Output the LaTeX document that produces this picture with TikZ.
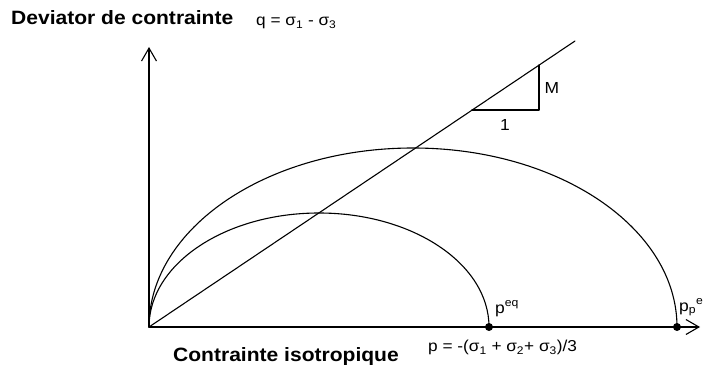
\documentclass[tikz,border=0pt]{standalone}
\usepackage{fontspec}
\setmainfont{Liberation Sans}[FakeStretch=1.09]
\usetikzlibrary{arrows.meta}
\tikzset{
  ln/.style={line width=1.1pt, line cap=round, line join=round},
  axis/.style={ln, -{Straight Barb[length=13pt,width=15pt,line width=1.1pt]}},
  boldlab/.style={anchor=base west, inner sep=0pt, font=\bfseries\fontsize{19.3}{22}\selectfont},
  smalllab/.style={anchor=base west, inner sep=0pt, font=\fontsize{15.8}{18}\selectfont},
  ptlab/.style={anchor=base west, inner sep=0pt, font=\fontsize{16}{18}\selectfont},
  dot/.style={fill=black}
}
\begin{document}
\begin{tikzpicture}[x=1pt,y=1pt]
\useasboundingbox (0,0) rectangle (703,370);
% key points
\coordinate (O) at (149,43);
\coordinate (Y) at (149,323);
\coordinate (X) at (700,43);
\coordinate (Peq) at (489,43);
\coordinate (Pp) at (677,43);
\coordinate (T) at (575,329);
\coordinate (A) at (472,260);
\coordinate (B) at (539,260);
\coordinate (C) at (539,305);
% axes
\draw[axis] (O) -- (Y);
\draw[axis] (O) -- (X);
% critical state line
\draw[ln] (O) -- (T);
% slope triangle
\draw[ln] (A) -- (B) -- (C);
% yield ellipses
\draw[ln] (O) arc[start angle=180, end angle=0, x radius=170, y radius=114];
\draw[ln] (O) arc[start angle=180, end angle=0, x radius=264, y radius=179];
% dots
\fill[dot] (Peq) circle (4);
\fill[dot] (Pp) circle (4);
% labels
\node[boldlab] (title) at (11,345.7) {Deviator de contrainte};
\node[smalllab] (qf) at (256,344.3) {q = σ\textsubscript{1} - σ\textsubscript{3}};
\node[boldlab] (iso) at (173,8.3) {Contrainte isotropique};
\node[smalllab] (pf) at (428,18.3) {p = -(σ\textsubscript{1} + σ\textsubscript{2}+ σ\textsubscript{3})/3};
\node[ptlab] (peqlab) at (495,57) {p\textsuperscript{eq}};
\node[ptlab] (pplab) at (679,59) {p\textsubscript{p}\textsuperscript{eq}};
\node[ptlab, anchor=center] (M) at (552,282.5) {M};
\node[ptlab, anchor=center] (one) at (505,245) {1};
\end{tikzpicture}
\end{document}
